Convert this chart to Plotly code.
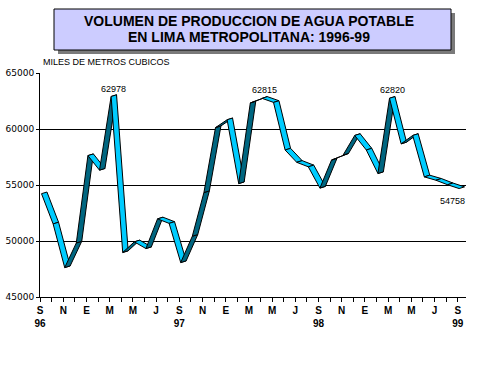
import plotly.graph_objects as go

# ---- data ----
months = ["Sep96", "Oct96", "Nov96", "Dic96", "Ene97", "Feb97", "Mar97", "Abr97", "May97",
          "Jun97", "Jul97", "Ago97", "Sep97", "Oct97", "Nov97", "Dic97", "Ene98", "Feb98",
          "Mar98", "Abr98", "May98", "Jun98", "Jul98", "Ago98", "Sep98", "Oct98", "Nov98",
          "Dic98", "Ene99", "Feb99", "Mar99", "Abr99", "May99", "Jun99", "Jul99", "Ago99", "Sep99"]
volumen = [54300, 51600, 47700, 49900, 57700, 56400, 62978, 49050, 50000,
           49400, 52050, 51650, 48150, 50500, 54400, 60200, 60900, 55200,
           62400, 62815, 62450, 58200, 57100, 56700, 54800, 57300, 57750,
           59500, 58200, 56100, 62820, 58750, 59500, 55800, 55500, 55100, 54758]
month_letters = ["S", "O", "N", "D", "E", "F", "M", "A", "M", "J", "J", "A"]
year_labels = {0: "96", 12: "97", 24: "98", 36: "99"}
labeled_points = [6, 19, 30, 36]
y_ticks = [45000, 50000, 55000, 60000, 65000]

# ---- layout geometry (pixels) ----
W, H = 498, 372
L, R, T, B = 40, 32, 73, 75
PW, PH = W - L - R, H - T - B

def pxx(px):
    return (px - L) / PW

def pxy(py):
    return (H - B - py) / PH

LIGHT = "#00CCFF"
DARK = "#006680"
depth_x = 0.47      # ribbon depth (category units)
depth_y = 150       # ribbon depth (value units)
x_shift = -0.12     # tick offset relative to data positions

n = len(volumen)
xs = list(range(n))

fig = go.Figure()

for i in range(n - 1):
    x0, x1 = xs[i], xs[i + 1]
    y0, y1 = volumen[i], volumen[i + 1]
    color = LIGHT if y1 < y0 else DARK
    px_ = [x0, x1, x1 + depth_x, x0 + depth_x, x0]
    py_ = [y0 - depth_y / 2, y1 - depth_y / 2, y1 + depth_y / 2, y0 + depth_y / 2, y0 - depth_y / 2]
    fig.add_trace(go.Scatter(x=px_, y=py_, mode="lines", fill="toself", fillcolor=color,
                             line=dict(color="black", width=1), hoverinfo="skip",
                             showlegend=False))

# tick labels
tickvals, ticktext = [], []
for i in range(n):
    tickvals.append(i + x_shift)
    if i % 2 == 0:
        t = "<b>" + month_letters[i % 12] + "</b>"
        if i in year_labels:
            t += "<br><b>" + year_labels[i] + "</b>"
        ticktext.append(t)
    else:
        ticktext.append("")

annotations = []
for i in labeled_points:
    if i == n - 1:
        annotations.append(dict(x=xs[i] + depth_x / 2, y=volumen[i], text=str(volumen[i]),
                                showarrow=False, xshift=-9, yshift=-13,
                                font=dict(family="Arial", size=9, color="black")))
    else:
        annotations.append(dict(x=xs[i] + depth_x / 2, y=volumen[i], text=str(volumen[i]),
                                showarrow=False, yshift=7,
                                font=dict(family="Arial", size=9, color="black")))

# title & axis caption
annotations.append(dict(xref="paper", yref="paper", x=pxx(249), y=pxy(21),
                        text="<b>VOLUMEN DE PRODUCCION DE AGUA POTABLE</b>", showarrow=False,
                        xanchor="center", yanchor="middle",
                        font=dict(family="Arial", size=14, color="black")))
annotations.append(dict(xref="paper", yref="paper", x=pxx(249), y=pxy(37),
                        text="<b>EN LIMA METROPOLITANA: 1996-99</b>", showarrow=False,
                        xanchor="center", yanchor="middle",
                        font=dict(family="Arial", size=14, color="black")))
annotations.append(dict(xref="paper", yref="paper", x=pxx(41), y=pxy(62),
                        text="MILES DE METROS CUBICOS", showarrow=False,
                        xanchor="left", yanchor="middle",
                        font=dict(family="Arial", size=9, color="black")))

shapes = [
    dict(type="rect", xref="paper", yref="paper", x0=pxx(58), x1=pxx(455), y0=pxy(13), y1=pxy(54),
         fillcolor="#7a7a7a", line=dict(width=0), layer="below"),
    dict(type="rect", xref="paper", yref="paper", x0=pxx(54), x1=pxx(451), y0=pxy(9), y1=pxy(50),
         fillcolor="#CCCCFF", line=dict(color="black", width=1), layer="below"),
]

fig.update_layout(
    width=W, height=H,
    margin=dict(l=L, r=R, t=T, b=B, autoexpand=False),
    paper_bgcolor="white", plot_bgcolor="white",
    showlegend=False,
    annotations=annotations,
    shapes=shapes,
    xaxis=dict(range=[-0.13, -0.13 + PW / 11.6], tickvals=tickvals, ticktext=ticktext,
               ticks="outside", ticklen=4, tickcolor="black", showgrid=False, zeroline=False,
               showline=True, linecolor="black", linewidth=1,
               tickfont=dict(family="Arial", size=10, color="black"), automargin=False,
               fixedrange=True),
    yaxis=dict(range=[45000, 65000], tickvals=y_ticks, ticktext=[str(v) for v in y_ticks],
               ticks="outside", ticklen=3, tickcolor="black", showgrid=True, gridcolor="black",
               gridwidth=1, zeroline=False, showline=True, linecolor="black", linewidth=1,
               tickfont=dict(family="DejaVu Sans", size=9, color="black"), automargin=False,
               fixedrange=True),
)

fig.write_html("out.html", config={"displayModeBar": False},
               post_script="document.body.style.margin='0';document.body.style.overflow='hidden';")
